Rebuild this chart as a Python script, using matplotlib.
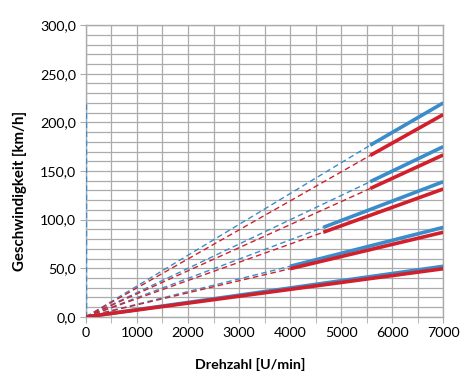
import numpy as np
import matplotlib.pyplot as plt
from matplotlib.ticker import FuncFormatter, MultipleLocator

# Gear lines: speed at shift-in rpm and at 7000 rpm
gears = ["1", "2", "3", "4", "5"]
rpm_start = [0, 4000, 4650, 5570, 5570]
rpm_end = 7000
blue_start = [0.0, 52.0, 92.0, 139.0, 176.5]
blue_end = [52.0, 92.0, 139.0, 175.0, 220.0]
red_start = [0.0, 49.5, 87.0, 132.0, 166.0]
red_end = [49.5, 87.0, 131.5, 166.5, 208.0]
vline_top = 220.0

blue = '#3a8ccb'
red = '#d1202c'
grid_color = '#ababab'
label_size = 10.3

plt.rcParams['font.family'] = ['Lato', 'DejaVu Sans']

fig = plt.figure(figsize=(4.67, 3.75), dpi=100)
ax = fig.add_axes([0.184, 0.155, 0.765, 0.778])

ax.plot([0, 0], [0, vline_top], color=blue, lw=1, ls=(0, (4, 2.5)), zorder=3)

for i in range(len(gears)):
    for c, vs, ve in ((blue, blue_start, blue_end), (red, red_start, red_end)):
        if rpm_start[i] > 0:
            ax.plot([0, rpm_start[i]], [0, vs[i]], color=c, lw=1,
                    ls=(0, (4, 2.5)), zorder=3)
        ax.plot([rpm_start[i], rpm_end], [vs[i], ve[i]], color=c, lw=2.6,
                solid_capstyle='butt', zorder=4)

ax.set_xlim(0, 7000)
ax.set_ylim(0, 300)
ax.xaxis.set_major_locator(MultipleLocator(1000))
ax.xaxis.set_minor_locator(MultipleLocator(500))
ax.yaxis.set_major_locator(MultipleLocator(50))
ax.yaxis.set_minor_locator(MultipleLocator(10))
ax.yaxis.set_major_formatter(FuncFormatter(lambda v, p: f'{v:.1f}'.replace('.', ',')))
ax.grid(which='both', color=grid_color, lw=0.9)
ax.set_axisbelow(True)
for s in ax.spines.values():
    s.set_color(grid_color)
    s.set_linewidth(1)
ax.tick_params(which='major', length=4, color=grid_color, labelsize=label_size, pad=3)
ax.tick_params(axis='x', which='minor', length=4, color=grid_color)
ax.tick_params(axis='y', which='minor', length=0)

ax.set_xlabel('Drehzahl [U/min]', fontsize=label_size, fontweight='bold')
ax.set_ylabel('Geschwindigkeit [km/h]', fontsize=10.8, fontweight='bold')
ax.xaxis.set_label_coords(0.46, -0.14)
ax.yaxis.set_label_coords(-0.165, 0.43)

fig.savefig('out.png', dpi=100)
